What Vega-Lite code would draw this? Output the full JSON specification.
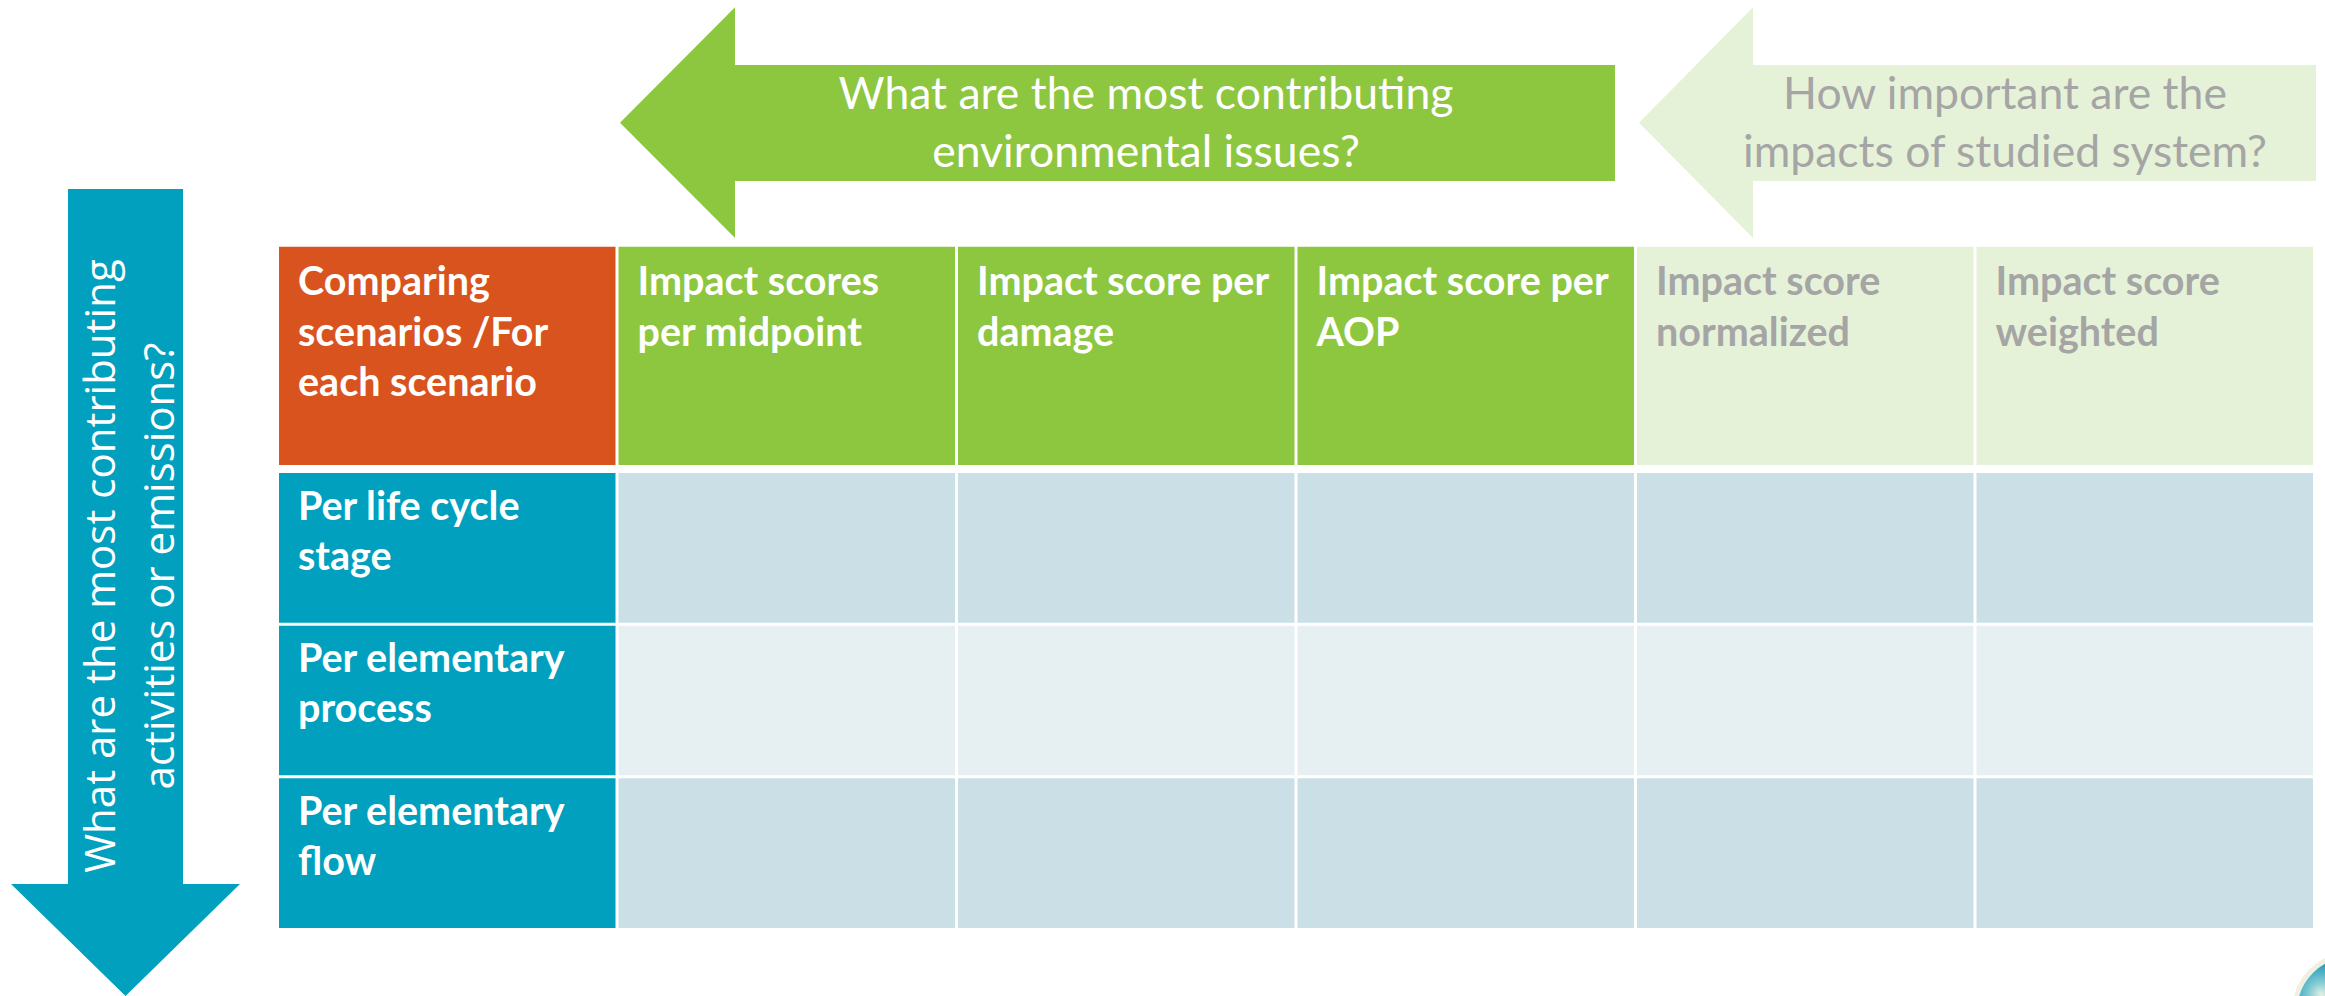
{
  "$schema": "https://vega.github.io/schema/vega-lite/v6.json",
  "width": 2325,
  "height": 996,
  "autosize": {"type": "none"},
  "padding": 0,
  "background": "white",
  "config": {"view": {"stroke": null}},
  "datasets": {
    "arrows": [
      {"arrow": "green", "i": 0, "x": 620, "y": 122.7},
      {"arrow": "green", "i": 1, "x": 735, "y": 7.3},
      {"arrow": "green", "i": 2, "x": 735, "y": 65},
      {"arrow": "green", "i": 3, "x": 1615, "y": 65},
      {"arrow": "green", "i": 4, "x": 1615, "y": 181},
      {"arrow": "green", "i": 5, "x": 735, "y": 181},
      {"arrow": "green", "i": 6, "x": 735, "y": 238},
      {"arrow": "pale", "i": 0, "x": 1639, "y": 122.7},
      {"arrow": "pale", "i": 1, "x": 1753, "y": 7.3},
      {"arrow": "pale", "i": 2, "x": 1753, "y": 65},
      {"arrow": "pale", "i": 3, "x": 2316, "y": 65},
      {"arrow": "pale", "i": 4, "x": 2316, "y": 181},
      {"arrow": "pale", "i": 5, "x": 1753, "y": 181},
      {"arrow": "pale", "i": 6, "x": 1753, "y": 238},
      {"arrow": "blue", "i": 0, "x": 68, "y": 189},
      {"arrow": "blue", "i": 1, "x": 183, "y": 189},
      {"arrow": "blue", "i": 2, "x": 183, "y": 884},
      {"arrow": "blue", "i": 3, "x": 240, "y": 884},
      {"arrow": "blue", "i": 4, "x": 125.5, "y": 996},
      {"arrow": "blue", "i": 5, "x": 11, "y": 884},
      {"arrow": "blue", "i": 6, "x": 68, "y": 884}
    ],
    "captions": [
      {"arrow": "green", "text": "What are the most contributing\nenvironmental issues?", "x": 1146, "y": 109},
      {"arrow": "pale", "text": "How important are the\nimpacts of studied system?", "x": 2005, "y": 109},
      {"arrow": "blue", "text": "What are the most contributing\nactivities or emissions?", "x": 115, "y": 566}
    ],
    "logo": [{"name": "logo", "x": 2350, "y": 1010}],
    "header": [
      {"col": "scenario", "row": "header", "label": "Comparing\nscenarios /For\neach scenario", "tone": "scenario"},
      {"col": "midpoint", "row": "header", "label": "Impact scores\nper midpoint", "tone": "green"},
      {"col": "damage", "row": "header", "label": "Impact score per\ndamage", "tone": "green"},
      {"col": "aop", "row": "header", "label": "Impact score per\nAOP", "tone": "green"},
      {"col": "normalized", "row": "header", "label": "Impact score\nnormalized", "tone": "pale"},
      {"col": "weighted", "row": "header", "label": "Impact score\nweighted", "tone": "pale"}
    ],
    "cells": [
      {"row": "stage", "col": "scenario", "label": "Per life cycle\nstage"},
      {"row": "stage", "col": "midpoint", "label": ""},
      {"row": "stage", "col": "damage", "label": ""},
      {"row": "stage", "col": "aop", "label": ""},
      {"row": "stage", "col": "normalized", "label": ""},
      {"row": "stage", "col": "weighted", "label": ""},
      {"row": "process", "col": "scenario", "label": "Per elementary\nprocess"},
      {"row": "process", "col": "midpoint", "label": ""},
      {"row": "process", "col": "damage", "label": ""},
      {"row": "process", "col": "aop", "label": ""},
      {"row": "process", "col": "normalized", "label": ""},
      {"row": "process", "col": "weighted", "label": ""},
      {"row": "flow", "col": "scenario", "label": "Per elementary\nflow"},
      {"row": "flow", "col": "midpoint", "label": ""},
      {"row": "flow", "col": "damage", "label": ""},
      {"row": "flow", "col": "aop", "label": ""},
      {"row": "flow", "col": "normalized", "label": ""},
      {"row": "flow", "col": "weighted", "label": ""}
    ]
  },
  "resolve": {"scale": {"x": "independent", "y": "independent"}},
  "layer": [
    {
      "encoding": {
        "x": {"field": "x", "type": "quantitative", "scale": {"domain": [0, 2325], "nice": false, "zero": false}, "axis": null},
        "y": {"field": "y", "type": "quantitative", "scale": {"domain": [0, 996], "nice": false, "zero": false, "reverse": true}, "axis": null}
      },
      "layer": [
        {
          "data": {"name": "arrows"},
          "transform": [{"filter": "datum.arrow === 'green'"}],
          "mark": {"type": "line", "interpolate": "linear-closed", "fill": "#8DC63F", "stroke": "#8DC63F", "strokeWidth": 0},
          "encoding": {"order": {"field": "i", "type": "quantitative"}}
        },
        {
          "data": {"name": "arrows"},
          "transform": [{"filter": "datum.arrow === 'pale'"}],
          "mark": {"type": "line", "interpolate": "linear-closed", "fill": "#E5F2D8", "stroke": "#E5F2D8", "strokeWidth": 0},
          "encoding": {"order": {"field": "i", "type": "quantitative"}}
        },
        {
          "data": {"name": "arrows"},
          "transform": [{"filter": "datum.arrow === 'blue'"}],
          "mark": {"type": "line", "interpolate": "linear-closed", "fill": "#00A0BE", "stroke": "#00A0BE", "strokeWidth": 0},
          "encoding": {"order": {"field": "i", "type": "quantitative"}}
        },
        {
          "data": {"name": "captions"},
          "transform": [{"filter": "datum.arrow === 'green'"}],
          "mark": {"type": "text", "align": "center", "baseline": "alphabetic", "font": "Lato", "fontSize": 44.5, "lineHeight": 58, "lineBreak": "\n", "fill": "white"},
          "encoding": {"text": {"field": "text"}}
        },
        {
          "data": {"name": "captions"},
          "transform": [{"filter": "datum.arrow === 'pale'"}],
          "mark": {"type": "text", "align": "center", "baseline": "alphabetic", "font": "Lato", "fontSize": 44.5, "lineHeight": 58, "lineBreak": "\n", "fill": "#A5A5A5"},
          "encoding": {"text": {"field": "text"}}
        },
        {
          "data": {"name": "captions"},
          "transform": [{"filter": "datum.arrow === 'blue'"}],
          "mark": {"type": "text", "align": "center", "baseline": "alphabetic", "angle": -90, "font": "Open Sans", "fontSize": 42, "lineHeight": 59, "lineBreak": "\n", "fill": "white"},
          "encoding": {"text": {"field": "text"}}
        },
        {
          "data": {"name": "logo"},
          "mark": {"type": "point", "shape": "circle", "filled": true, "clip": true, "size": 12076, "opacity": 1,
            "fill": {"gradient": "radial", "x1": 0.24, "y1": 0.36, "x2": 0.24, "y2": 0.36, "r1": 0, "r2": 0.3,
              "stops": [{"offset": 0, "color": "#E3F1E2"}, {"offset": 0.4, "color": "#7FC8D3"}, {"offset": 1, "color": "#1798B5"}]},
            "stroke": "#EEF0E2", "strokeWidth": 5}
        }
      ]
    },
    {
      "data": {"name": "header"},
      "encoding": {
        "x": {"field": "col", "type": "nominal", "scale": {"type": "band", "domain": ["scenario", "midpoint", "damage", "aop", "normalized", "weighted"], "range": [279, 2313], "paddingInner": 0.0088, "paddingOuter": 0}, "axis": null},
        "y": {"field": "row", "type": "nominal", "scale": {"type": "band", "domain": ["header"], "range": [246.7, 465], "paddingInner": 0, "paddingOuter": 0}, "axis": null}
      },
      "layer": [
        {
          "mark": {"type": "rect"},
          "encoding": {
            "fill": {"condition": [{"test": "datum.tone === 'scenario'", "value": "#D9531E"}, {"test": "datum.tone === 'green'", "value": "#8DC63F"}], "value": "#E5F2D8"}
          }
        },
        {
          "mark": {"type": "text", "align": "left", "baseline": "alphabetic", "dx": 19, "dy": 48.5, "font": "Lato", "fontWeight": "bold", "fontSize": 39.5, "lineHeight": 50.5, "lineBreak": "\n"},
          "encoding": {
            "x": {"field": "col", "type": "nominal", "bandPosition": 0},
            "y": {"field": "row", "type": "nominal", "bandPosition": 0},
            "text": {"field": "label"},
            "fill": {"condition": {"test": "datum.tone === 'pale'", "value": "#A5A5A5"}, "value": "white"}
          }
        }
      ]
    },
    {
      "data": {"name": "cells"},
      "encoding": {
        "x": {"field": "col", "type": "nominal", "scale": {"type": "band", "domain": ["scenario", "midpoint", "damage", "aop", "normalized", "weighted"], "range": [279, 2313], "paddingInner": 0.0088, "paddingOuter": 0}, "axis": null},
        "y": {"field": "row", "type": "nominal", "scale": {"type": "band", "domain": ["stage", "process", "flow"], "range": [473, 928], "paddingInner": 0.02, "paddingOuter": 0}, "axis": null}
      },
      "layer": [
        {
          "mark": {"type": "rect"},
          "encoding": {
            "fill": {"condition": [{"test": "datum.col === 'scenario'", "value": "#00A0BE"}, {"test": "datum.row === 'process'", "value": "#E6F0F3"}], "value": "#CADFE6"}
          }
        },
        {
          "mark": {"type": "text", "align": "left", "baseline": "alphabetic", "dx": 19, "dy": 46.5, "font": "Lato", "fontWeight": "bold", "fontSize": 39.5, "lineHeight": 50, "lineBreak": "\n", "fill": "white"},
          "encoding": {
            "x": {"field": "col", "type": "nominal", "bandPosition": 0},
            "y": {"field": "row", "type": "nominal", "bandPosition": 0},
            "text": {"field": "label"}
          }
        }
      ]
    }
  ]
}
